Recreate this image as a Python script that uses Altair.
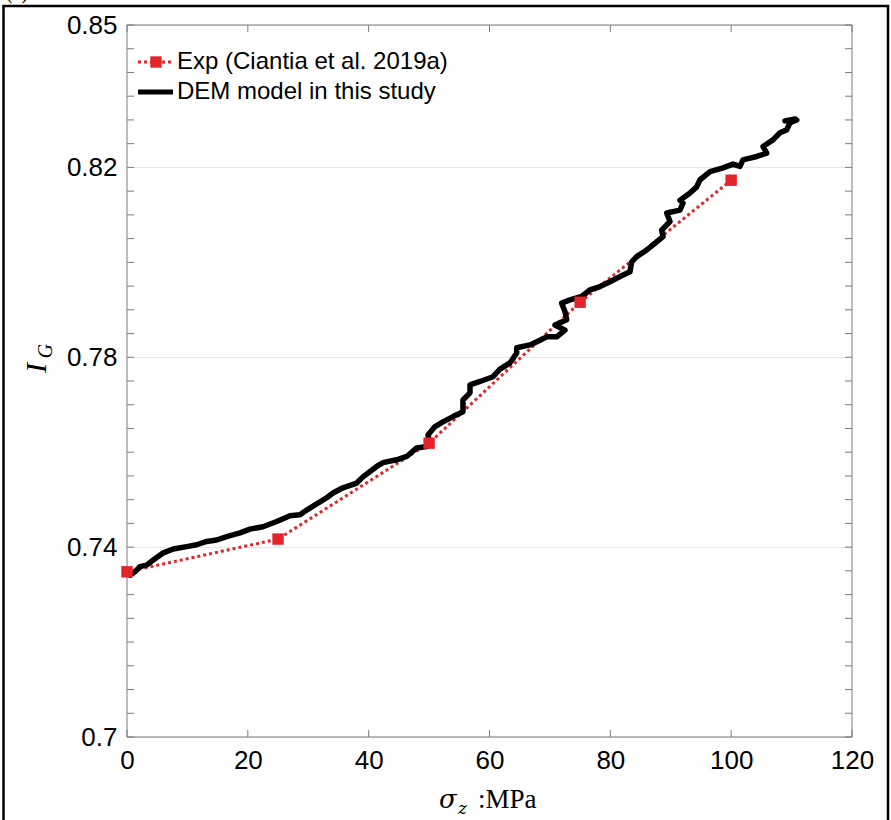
import altair as alt
import pandas as pd

# ---------------- data ----------------
exp_x = [0, 25, 50, 75, 100]
exp_y = [0.7348, 0.7417, 0.7619, 0.7916, 0.8173]

dem_x = [0.50, 1.32, 2.15, 3.26, 4.35, 6.01, 7.66, 9.88, 11.54, 13.19, 14.85, 16.50,
         18.70, 20.36, 22.51, 24.78, 26.98, 28.63, 29.74, 31.40, 33.05, 34.10, 35.75,
         38.02, 39.06, 41.33, 42.37, 44.64, 46.29, 47.95, 49.61, 50.15, 49.82, 50.98,
         52.30, 53.96, 55.61, 55.61, 56.77, 56.77, 58.43, 60.58, 61.74, 63.39, 64.50,
         64.50, 66.70, 68.36, 69.47, 71.12, 72.50, 70.84, 72.78, 72.50, 71.95, 73.32,
         75.26, 76.63, 78.29, 79.94, 81.60, 83.25, 83.53, 84.36, 86.02, 87.06, 88.72,
         88.50, 89.88, 89.33, 91.53, 92.03, 91.53, 93.19, 94.29, 94.84, 96.50, 98.65,
         100.30, 101.46, 101.96, 104.23, 105.88, 105.27, 106.92, 108.08, 109.19,
         109.74, 110.85, 108.90, 110.60]
dem_y = [0.7341, 0.7348, 0.7359, 0.7362, 0.7373, 0.7388, 0.7396, 0.7401, 0.7405,
         0.7412, 0.7415, 0.7422, 0.7430, 0.7438, 0.7443, 0.7454, 0.7466, 0.7468,
         0.7478, 0.7491, 0.7504, 0.7514, 0.7525, 0.7535, 0.7548, 0.7570, 0.7578,
         0.7584, 0.7591, 0.7609, 0.7612, 0.7619, 0.7636, 0.7654, 0.7664, 0.7675,
         0.7685, 0.7710, 0.7725, 0.7742, 0.7749, 0.7759, 0.7775, 0.7788, 0.7809,
         0.7820, 0.7826, 0.7836, 0.7843, 0.7843, 0.7857, 0.7868, 0.7879, 0.7896,
         0.7914, 0.7921, 0.7928, 0.7942, 0.7949, 0.7959, 0.7970, 0.7980, 0.8001,
         0.8012, 0.8026, 0.8037, 0.8054, 0.8068, 0.8086, 0.8104, 0.8110, 0.8125,
         0.8131, 0.8146, 0.8159, 0.8174, 0.8191, 0.8199, 0.8207, 0.8202, 0.8216,
         0.8223, 0.8230, 0.8244, 0.8258, 0.8273, 0.8279, 0.8294, 0.8300, 0.8298,
         0.8302]

x_ticks = [0, 20, 40, 60, 80, 100, 120]
y_labels = [0.7, 0.74, 0.78, 0.82, 0.85]
y_minor = [0.700, 0.705, 0.710, 0.715, 0.720, 0.725, 0.730, 0.735, 0.740, 0.745,
           0.750, 0.755, 0.760, 0.765, 0.770, 0.775, 0.780, 0.785, 0.790, 0.795,
           0.800, 0.805, 0.810, 0.815, 0.820, 0.825, 0.830, 0.835, 0.840, 0.845,
           0.850]

legend_labels = ["Exp (Ciantia et al. 2019a)", "DEM model in this study"]

RED = "#e3242b"
W, H = 725, 712

exp_df = pd.DataFrame({"x": exp_x, "y": exp_y})
dem_df = pd.DataFrame({"x": dem_x, "y": dem_y, "o": list(range(len(dem_x)))})
xt_df = pd.DataFrame({"x": x_ticks})
yt_df = pd.DataFrame({"y": y_minor})
one = pd.DataFrame({"a": [0]})

xs = alt.Scale(domain=[0, 120], nice=False, zero=False)
ys = alt.Scale(domain=[0.7, 0.85], nice=False, zero=False)

base_axes = alt.Chart(exp_df).mark_point(opacity=0).encode(
    x=alt.X("x:Q", scale=xs,
            axis=alt.Axis(values=x_ticks, title=None, domain=False, ticks=False,
                          grid=False, labelFontSize=26, labelFont="Liberation Sans",
                          labelColor="black", labelPadding=10, labelFlush=False)),
    y=alt.Y("y:Q", scale=ys,
            axis=alt.Axis(values=y_labels, title=None, domain=False, ticks=False,
                          grid=True, gridColor="#e6e6e6", gridWidth=1,
                          format=".2~f", labelFontSize=26, labelFont="Liberation Sans",
                          labelColor="black", labelPadding=10)),
)

# inward ticks
tick_col = "#7a7a7a"
xt_bottom = alt.Chart(xt_df).mark_rule(color=tick_col, strokeWidth=1).encode(
    x=alt.X("x:Q", scale=xs), y=alt.value(H), y2=alt.value(H - 7))
xt_top = alt.Chart(xt_df).mark_rule(color=tick_col, strokeWidth=1).encode(
    x=alt.X("x:Q", scale=xs), y=alt.value(0), y2=alt.value(7))
yt_left = alt.Chart(yt_df).mark_rule(color=tick_col, strokeWidth=1).encode(
    y=alt.Y("y:Q", scale=ys), x=alt.value(0), x2=alt.value(7))
yt_right = alt.Chart(yt_df).mark_rule(color=tick_col, strokeWidth=1).encode(
    y=alt.Y("y:Q", scale=ys), x=alt.value(W), x2=alt.value(W - 7))

box = alt.Chart(one).mark_rect(fill=None, stroke=tick_col, strokeWidth=1).encode(
    x=alt.value(0), x2=alt.value(W), y=alt.value(0), y2=alt.value(H))

exp_line = alt.Chart(exp_df).mark_line(color=RED, strokeWidth=3, strokeDash=[3, 3]).encode(
    x=alt.X("x:Q", scale=xs), y=alt.Y("y:Q", scale=ys))
dem_line = alt.Chart(dem_df).mark_line(color="black", strokeWidth=5.5, strokeJoin="round",
                                        strokeCap="round").encode(
    x=alt.X("x:Q", scale=xs), y=alt.Y("y:Q", scale=ys), order="o:Q")
exp_pts = alt.Chart(exp_df).mark_square(color=RED, size=130, opacity=1).encode(
    x=alt.X("x:Q", scale=xs), y=alt.Y("y:Q", scale=ys))

# legend (manual)
leg_red = alt.Chart(one).mark_rule(color=RED, strokeWidth=3, strokeDash=[3, 3]).encode(
    x=alt.value(11), x2=alt.value(44), y=alt.value(37))
leg_sq = alt.Chart(one).mark_square(color=RED, size=130, opacity=1).encode(
    x=alt.value(29), y=alt.value(37))
leg_blk = alt.Chart(one).mark_rule(color="black", strokeWidth=5).encode(
    x=alt.value(11), x2=alt.value(46), y=alt.value(67))
leg_t1 = alt.Chart(one).mark_text(text=legend_labels[0], font="Liberation Sans", fontSize=24,
                                  align="left", baseline="middle", color="black").encode(
    x=alt.value(50), y=alt.value(37))
leg_t2 = alt.Chart(one).mark_text(text=legend_labels[1], font="Liberation Sans", fontSize=24,
                                  align="left", baseline="middle", color="black").encode(
    x=alt.value(50), y=alt.value(67))

# axis titles (manual, math style)
xt_sigma = alt.Chart(one).mark_text(text="σ", font="DejaVu Serif", fontStyle="italic",
                                    fontSize=26, align="left", baseline="alphabetic").encode(
    x=alt.value(312), y=alt.value(783))
xt_z = alt.Chart(one).mark_text(text="z", font="DejaVu Serif", fontStyle="italic",
                                fontSize=17, align="left", baseline="alphabetic").encode(
    x=alt.value(331), y=alt.value(789))
xt_mpa = alt.Chart(one).mark_text(text=":MPa", font="Liberation Serif",
                                  fontSize=27, align="left", baseline="alphabetic").encode(
    x=alt.value(351), y=alt.value(783))
yt_I = alt.Chart(one).mark_text(text="I", font="Liberation Serif", fontStyle="italic",
                                fontSize=30, angle=270, align="center",
                                baseline="middle").encode(
    x=alt.value(-90), y=alt.value(343))
yt_G = alt.Chart(one).mark_text(text="G", font="Liberation Serif", fontStyle="italic",
                                fontSize=20, angle=270, align="center",
                                baseline="middle").encode(
    x=alt.value(-81), y=alt.value(326))

# outer frame and panel label
frame = alt.Chart(one).mark_rect(fill=None, stroke="black", strokeWidth=2.5).encode(
    x=alt.value(-123.5), x2=alt.value(761), y=alt.value(-19), y2=alt.value(810))
panel = alt.Chart(one).mark_text(text="(a)", font="Liberation Serif", fontSize=20,
                                 align="left", baseline="alphabetic").encode(
    x=alt.value(-121), y=alt.value(-26))

chart = alt.layer(
    base_axes, box, xt_bottom, xt_top, yt_left, yt_right,
    exp_line, dem_line, exp_pts,
    leg_red, leg_sq, leg_blk, leg_t1, leg_t2,
    xt_sigma, xt_z, xt_mpa, yt_I, yt_G, frame, panel,
).properties(
    width=W, height=H,
    autosize=alt.AutoSizeParams(type="none"),
    padding={"left": 127, "top": 25, "right": 39, "bottom": 83},
    background="white",
).configure_view(stroke=None)

chart.save("out.html", embed_options={"renderer": "svg", "actions": False})
